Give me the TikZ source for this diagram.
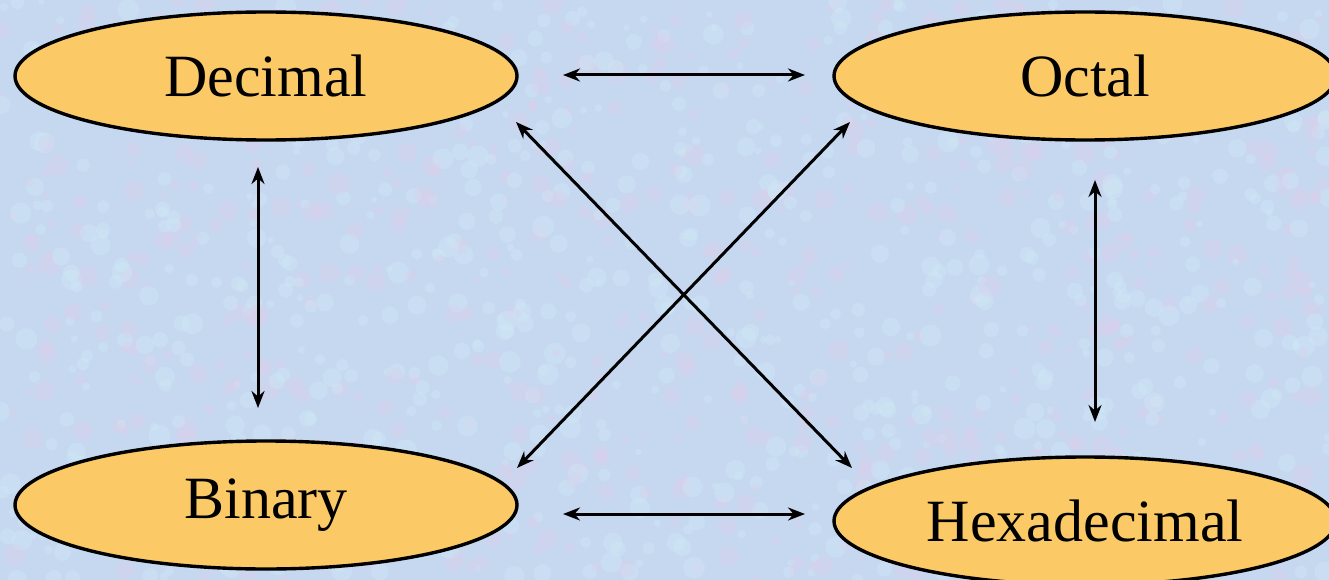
\documentclass[tikz,border=0pt]{standalone}
\usepackage{fontspec}
\setmainfont{Liberation Serif}
\usetikzlibrary{shapes.geometric,arrows.meta}
\definecolor{bgblue}{RGB}{198,216,240}
\definecolor{bgpink}{RGB}{222,206,234}
\definecolor{bglight}{RGB}{208,234,246}
\definecolor{ovalfill}{RGB}{251,201,102}
\tikzset{
  oval/.style={ellipse, draw=black, line width=3.4pt, fill=ovalfill,
    minimum width=502pt, minimum height=128pt, inner sep=0pt,
    font=\fontsize{60}{60}\selectfont},
  conn/.style={line width=3pt, {Stealth[length=17pt,width=13pt]}-{Stealth[length=17pt,width=13pt]}}
}
\begin{document}
\begin{tikzpicture}[x=1pt,y=-1pt]
\useasboundingbox (0,0) rectangle (1329,580);
\clip (0,0) rectangle (1329,580);
\fill[bgblue] (0,0) rectangle (1329,580);
\pgfmathsetseed{12345}
\foreach \i in {1,...,1400}{
  \pgfmathsetmacro{\px}{rnd*1329}
  \pgfmathsetmacro{\py}{rnd*580}
  \pgfmathsetmacro{\pr}{3+rnd*8}
  \pgfmathsetmacro{\pc}{rnd}
  \ifdim\pc pt<0.45pt
    \fill[bgpink,opacity=0.35] (\px,\py) circle (\pr);
  \else
    \fill[bglight,opacity=0.35] (\px,\py) circle (\pr);
  \fi
}
\node[oval] (dec) at (266,76) {Decimal};
\node[oval] (oct) at (1085,76) {Octal};
\node[oval] (bin) at (266,505) {Binary};
\node[oval] (hex) at (1085,521) {Hexadecimal};
\coordinate (a1) at (563,75);  \coordinate (a2) at (805,75);
\coordinate (b1) at (563,514); \coordinate (b2) at (805,514);
\coordinate (c1) at (258,167); \coordinate (c2) at (258,408);
\coordinate (e1) at (1095,180); \coordinate (e2) at (1095,422);
\coordinate (f1) at (516,122); \coordinate (f2) at (852,468);
\coordinate (g1) at (850,122); \coordinate (g2) at (517,468);
\draw[conn] (a1) -- (a2);
\draw[conn] (b1) -- (b2);
\draw[conn] (c1) -- (c2);
\draw[conn] (e1) -- (e2);
\draw[conn] (f1) -- (f2);
\draw[conn] (g1) -- (g2);
\end{tikzpicture}
\end{document}
